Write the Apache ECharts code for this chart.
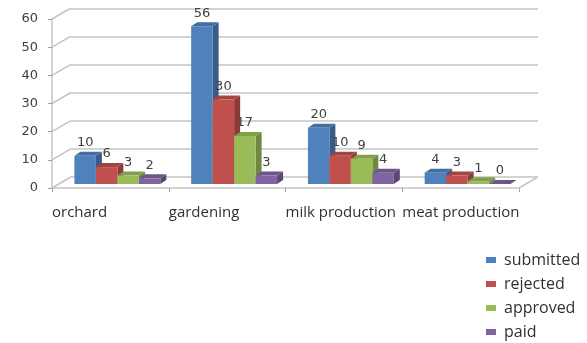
<!DOCTYPE html>
<html>
<head>
<meta charset="utf-8">
<script src="https://cdn.jsdelivr.net/npm/echarts@6/dist/echarts.min.js"></script>
<style>html,body{margin:0;padding:0;background:#fff}#c{width:587px;height:343px}</style>
</head>
<body>
<div id="c"></div>
<script>
var categories = ['orchard', 'gardening', 'milk production', 'meat production'];
var seriesNames = ['submitted', 'rejected', 'approved', 'paid'];
var submitted = [10, 56, 20, 4];
var rejected = [6, 30, 10, 3];
var approved = [3, 17, 9, 1];
var paid = [2, 3, 4, 0];
var yTicks = [0, 10, 20, 30, 40, 50, 60];

var values = [submitted, rejected, approved, paid];
var colors = ['#4f81bd', '#c0504d', '#9bbb59', '#8064a2'];
var DX = 6, DY = -4;        // bar depth
var WDX = 18, WDY = -10.5;  // wall depth

function shade(hex, f) {
  var n = parseInt(hex.slice(1), 16);
  var r = Math.round(((n >> 16) & 255) * f), g = Math.round(((n >> 8) & 255) * f), b = Math.round((n & 255) * f);
  return 'rgb(' + r + ',' + g + ',' + b + ')';
}

function makeRender(si) {
  return function (params, api) {
    var cat = api.value(0), v = api.value(1);
    var band = api.size([1, 0])[0];
    var bw = band * 0.184;
    var top = api.coord([cat, v]);
    var base = api.coord([cat, 0]);
    var x0 = top[0] - 2 * bw + si * bw;
    var x1 = x0 + bw;
    var yt = top[1], yb = base[1];
    var c = colors[si];
    return {
      type: 'group',
      children: [
        { type: 'polygon', shape: { points: [[x1, yb], [x1 + DX, yb + DY], [x1 + DX, yt + DY], [x1, yt]] }, style: { fill: shade(c, 0.72) } },
        { type: 'polygon', shape: { points: [[x0, yt], [x0 + DX, yt + DY], [x1 + DX, yt + DY], [x1, yt]] }, style: { fill: shade(c, 0.85) } },
        { type: 'rect', shape: { x: x0, y: yt, width: bw, height: yb - yt }, style: { fill: c } },
        { type: 'text', x: (x0 + x1) / 2, y: yt - 13, style: { text: String(v), fill: '#404040', font: '13px "DejaVu Sans"', align: 'center', verticalAlign: 'middle' } }
      ]
    };
  };
}

var series = [];
series.push({
  type: 'custom', xAxisIndex: 1, yAxisIndex: 1, silent: true,
  data: yTicks.map(function (t) { return [0, t]; }).concat([[4, 0]]),
  renderItem: function (params, api) {
    var p = api.coord([api.value(0), api.value(1)]);
    return { type: 'line', shape: { x1: p[0], y1: p[1], x2: p[0] + WDX, y2: p[1] + WDY }, style: { stroke: '#c4c4c4', lineWidth: 1.5 } };
  }
});
for (var i = 0; i < 4; i++) {
  series.push({
    type: 'custom', name: seriesNames[i], xAxisIndex: 2, yAxisIndex: 2,
    itemStyle: { color: colors[i] },
    data: values[i].map(function (v, k) { return [k, v]; }),
    renderItem: makeRender(i)
  });
}

var chart = echarts.init(document.getElementById('c'), null, { renderer: 'canvas' });
chart.setOption({
  animation: false,
  backgroundColor: '#fff',
  legend: {
    orient: 'vertical', left: 486, top: 252, width: 101, height: 91, itemWidth: 10, itemHeight: 6, itemGap: 8,
    icon: 'rect', data: seriesNames, padding: 0,
    textStyle: { fontFamily: 'Open Sans', fontSize: 16, lineHeight: 16, color: '#303030', padding: [0, 0, 0, 3] }
  },
  grid: [
    { left: 70, right: 49, top: 9, bottom: 166 },
    { left: 52, right: 68, top: 19, bottom: 155 },
    { left: 59, right: 61, top: 15, bottom: 159 }
  ],
  xAxis: [
    { gridIndex: 0, type: 'category', data: categories, show: false },
    { gridIndex: 1, type: 'category', boundaryGap: false, data: categories.concat(['']),
      axisLine: { lineStyle: { color: '#c4c4c4', width: 1.5 } },
      axisTick: { show: true, length: 4, interval: 0, lineStyle: { color: '#a0a0a0' } },
      axisLabel: { interval: 0, hideOverlap: false, align: 'left', margin: 17, fontFamily: 'Open Sans', fontSize: 15, color: '#303030' } },
    { gridIndex: 2, type: 'category', data: categories, show: false }
  ],
  yAxis: [
    { gridIndex: 0, type: 'value', min: 0, max: 60, interval: 10, axisLine: { show: false }, axisTick: { show: false }, axisLabel: { show: false },
      splitLine: { lineStyle: { color: '#c4c4c4', width: 1.5 } } },
    { gridIndex: 1, type: 'value', min: 0, max: 60, interval: 10, splitLine: { show: false },
      axisLine: { show: true, lineStyle: { color: '#c4c4c4', width: 1.5 } },
      axisTick: { show: true, length: 4, lineStyle: { color: '#a0a0a0' } },
      axisLabel: { margin: 14, fontFamily: 'DejaVu Sans', fontSize: 13, color: '#404040' } },
    { gridIndex: 2, type: 'value', min: 0, max: 60, interval: 10, show: false, splitLine: { show: false } }
  ],
  series: series
});
</script>
</body>
</html>
